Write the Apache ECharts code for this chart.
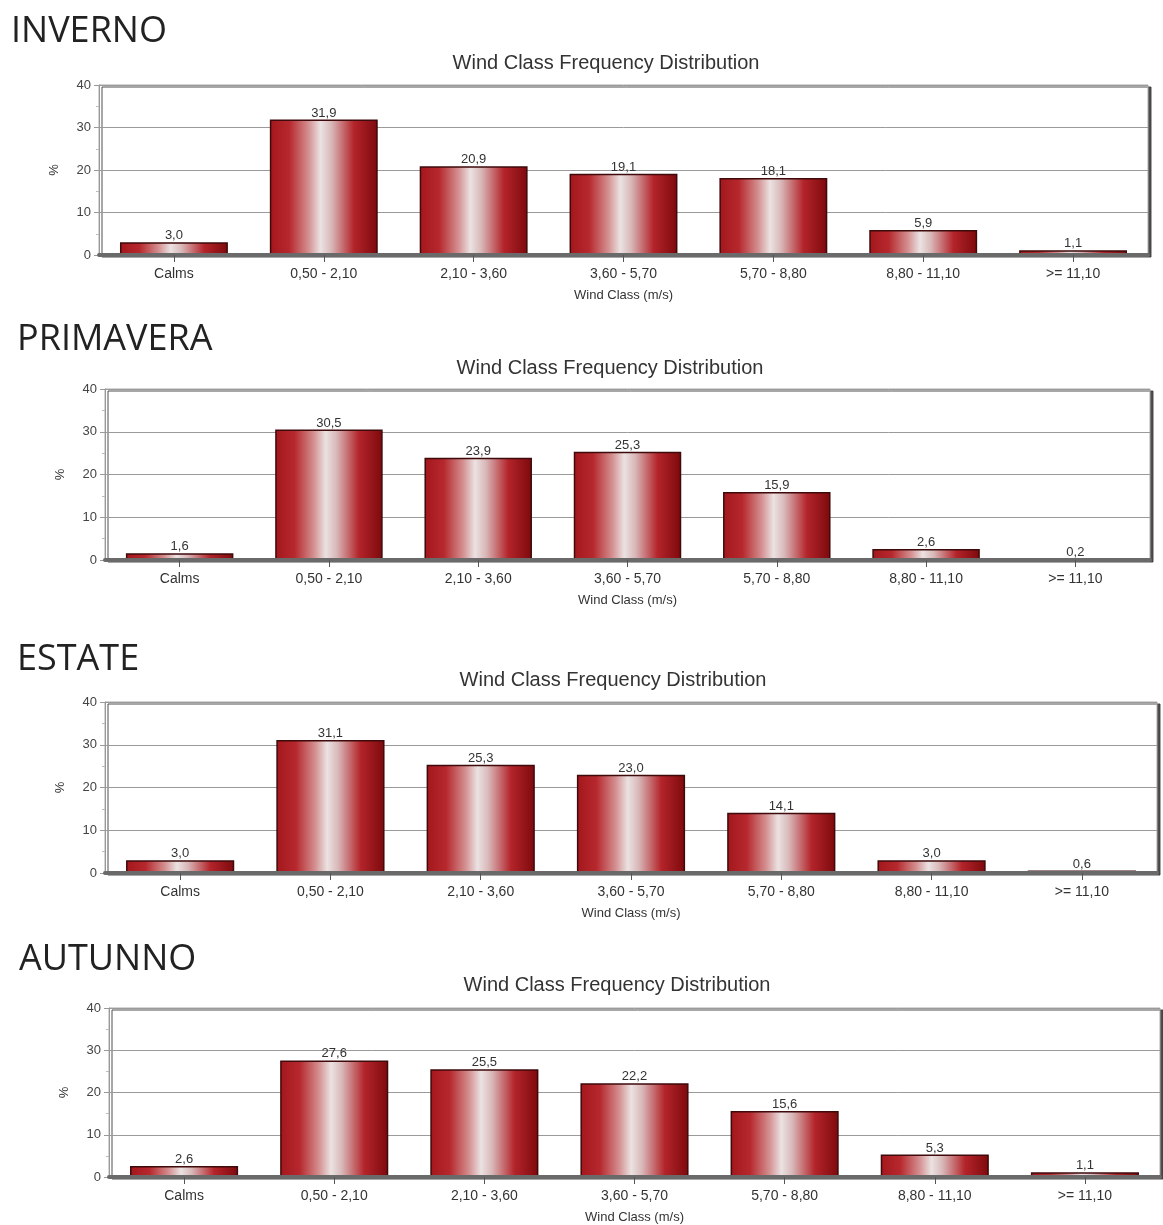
<!DOCTYPE html>
<html>
<head>
<meta charset="utf-8">
<script src="https://cdn.jsdelivr.net/npm/echarts@6/dist/echarts.min.js"></script>
<style>
html,body{margin:0;padding:0;background:#fff;}
#main{width:1163px;height:1225px;}
</style>
</head>
<body>
<div id="main"></div>
<script>
// ---- data ----
const categories = ['Calms', '0,50 - 2,10', '2,10 - 3,60', '3,60 - 5,70', '5,70 - 8,80', '8,80 - 11,10', '>= 11,10'];
const seasonNames = ['INVERNO', 'PRIMAVERA', 'ESTATE', 'AUTUNNO'];
const inverno   = [3.0, 31.9, 20.9, 19.1, 18.1, 5.9, 1.1];
const primavera = [1.6, 30.5, 23.9, 25.3, 15.9, 2.6, 0.2];
const estate    = [3.0, 31.1, 25.3, 23.0, 14.1, 3.0, 0.6];
const autunno   = [2.6, 27.6, 25.5, 22.2, 15.6, 5.3, 1.1];
const chartTitle = 'Wind Class Frequency Distribution';
const xAxisName = 'Wind Class (m/s)';
const yAxisName = '%';
const yMin = 0, yMax = 40, yInterval = 10;

// ---- layout ----
const seriesData = [inverno, primavera, estate, autunno];
const grids = [
  {left: 99,  top: 85,   width: 1049, height: 170},
  {left: 105, top: 389,  width: 1045, height: 171},
  {left: 105, top: 702,  width: 1052, height: 171},
  {left: 109, top: 1008, width: 1051, height: 171}
];
const seasonPos = [{x: 11, y: 30}, {x: 17, y: 338}, {x: 17, y: 658}, {x: 19, y: 958}];
const titlePos  = [{x: 606, y: 63}, {x: 610, y: 368}, {x: 613, y: 680}, {x: 617, y: 985}];

const fontArial = '"Liberation Sans", Arial, sans-serif';
const barGradient = new echarts.graphic.LinearGradient(0, 0, 1, 0, [
  {offset: 0,    color: '#a3171c'},
  {offset: 0.18, color: '#b6282d'},
  {offset: 0.36, color: '#d49091'},
  {offset: 0.47, color: '#ebe2e2'},
  {offset: 0.57, color: '#d9b8b9'},
  {offset: 0.78, color: '#b3242a'},
  {offset: 1,    color: '#7d090c'}
]);

const option = {
  backgroundColor: '#fff',
  animation: false,
  graphic: [],
  grid: [], xAxis: [], yAxis: [], series: []
};

seriesData.forEach((vals, i) => {
  const g = grids[i];
  option.grid.push(Object.assign({
    show: true, backgroundColor: '#fff', borderColor: '#aaa', borderWidth: 1,
    shadowColor: 'rgba(60,60,60,0.9)', shadowOffsetX: 3, shadowOffsetY: 2, shadowBlur: 0,
    containLabel: false
  }, g));
  option.xAxis.push({
    type: 'category', gridIndex: i, data: categories,
    name: xAxisName, nameLocation: 'middle', nameGap: 34,
    nameTextStyle: {fontFamily: fontArial, fontSize: 13, color: '#333'},
    axisLine: {show: true, lineStyle: {color: '#6a6a6a', width: 4}},
    axisTick: {show: true, alignWithLabel: true, interval: 0, length: 7, lineStyle: {color: '#555', width: 1}},
    axisLabel: {fontFamily: fontArial, fontSize: 14, color: '#333', margin: 12, interval: 0},
    splitLine: {show: false}, z: 5
  });
  option.yAxis.push({
    type: 'value', gridIndex: i, min: yMin, max: yMax, interval: yInterval,
    name: yAxisName, nameLocation: 'middle', nameGap: 38, nameRotate: 90,
    nameTextStyle: {fontFamily: fontArial, fontSize: 13, color: '#333'},
    axisLine: {show: true, lineStyle: {color: '#999', width: 1}},
    axisTick: {show: true, length: 5, lineStyle: {color: '#999'}},
    minorTick: {show: true, splitNumber: 2, length: 3, lineStyle: {color: '#bbb'}},
    axisLabel: {fontFamily: fontArial, fontSize: 13, color: '#444', margin: 8},
    splitLine: {show: true, lineStyle: {color: '#9a9a9a', width: 1}}
  });
  option.series.push({
    type: 'bar', xAxisIndex: i, yAxisIndex: i, data: vals,
    barWidth: '72%',
    itemStyle: {color: barGradient, borderColor: '#3e0a0b', borderWidth: 1.5},
    label: {
      show: true, position: 'top', distance: 0,
      fontFamily: fontArial, fontSize: 13, color: '#333',
      formatter: p => p.value.toFixed(1).replace('.', ',')
    },
    z: 3
  });
  option.graphic.push({
    type: 'text', left: seasonPos[i].x, top: seasonPos[i].y - 16,
    style: {text: seasonNames[i], font: '36px "Open Sans", sans-serif', fill: '#222'}
  });
  option.graphic.push({
    type: 'text', x: titlePos[i].x, y: titlePos[i].y,
    style: {text: chartTitle, font: '20px ' + fontArial, fill: '#333', textAlign: 'center', textVerticalAlign: 'middle'}
  });
});

const chart = echarts.init(document.getElementById('main'), null, {renderer: 'canvas'});
chart.setOption(option);
</script>
</body>
</html>
